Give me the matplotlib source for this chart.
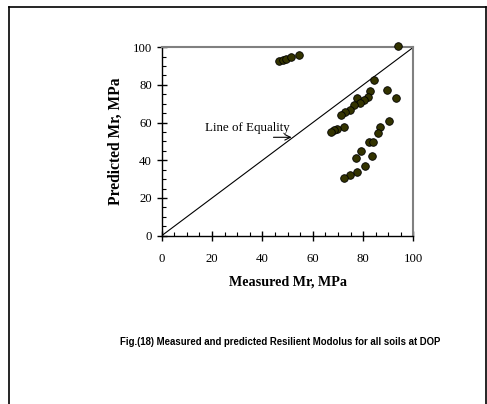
import matplotlib
import matplotlib.pyplot as plt
from matplotlib.lines import Line2D

matplotlib.use("Agg")

# measured vs predicted resilient modulus (MPa)
measured = [
    46.4, 48.1, 49.4, 51.4, 54.6,
    93.8,
    84.4, 89.3, 93.0, 82.8, 81.9, 77.7, 80.4, 78.9, 76.2, 74.8, 72.7, 71.4,
    72.3, 69.8, 68.6, 67.2,
    86.8, 90.1, 86.0, 82.5, 84.1, 79.1, 77.2, 83.6, 80.9, 77.4, 74.8, 72.6,
]
predicted = [
    92.7, 93.1, 93.5, 94.7, 95.9,
    100.6,
    82.5, 77.3, 73.1, 76.6, 73.8, 72.9, 72.0, 70.3, 69.2, 66.7, 65.5, 64.2,
    57.9, 56.6, 55.9, 55.2,
    57.9, 60.7, 54.3, 49.6, 49.6, 44.8, 41.2, 42.5, 37.0, 33.8, 32.2, 30.6,
]
equality = [0, 100]
ticks = [0, 20, 40, 60, 80, 100]

serif = ["Liberation Serif", "DejaVu Serif"]

fig = plt.figure(figsize=(4.87, 4.04), dpi=100)
ax = fig.add_axes([0.332, 0.4166, 0.517, 0.4666])

ax.plot(equality, equality, color="black", lw=0.8)
ax.scatter(measured, predicted, s=30, color="#333300", edgecolors="black",
           linewidths=0.6, zorder=3, clip_on=False)

ax.set_xlim(0, 100)
ax.set_ylim(0, 100)
ax.set_xticks(ticks)
ax.set_yticks(ticks)
ax.set_xticks(range(0, 101, 5), minor=True)
ax.set_yticks(range(0, 101, 5), minor=True)
ax.tick_params(which="major", direction="inout", length=7, width=1, labelsize=9.2)
ax.tick_params(axis="x", which="major", pad=9)
ax.tick_params(axis="y", which="major", pad=3.5)
ax.tick_params(which="minor", direction="in", length=3, width=0.8)
ax.tick_params(top=False, right=False, which="both")
for lab in ax.get_xticklabels() + ax.get_yticklabels():
    lab.set_fontfamily(serif)

for side in ("left", "bottom"):
    ax.spines[side].set_color("black")
    ax.spines[side].set_linewidth(1)
for side in ("top", "right"):
    ax.spines[side].set_color("#808080")
    ax.spines[side].set_linewidth(1.5)

ax.set_xlabel("Measured Mr, MPa", family=serif, fontweight="bold", fontsize=10.2)
ax.set_ylabel("Predicted Mr, MPa", family=serif, fontweight="bold", fontsize=11.2)
ax.xaxis.set_label_coords(0.5, -0.244)
ax.yaxis.set_label_coords(-0.183, 0.5)
ax.xaxis.label.set_va("center")
ax.yaxis.label.set_va("center")

ax.text(17.2, 57.2, "Line of Equality", family=serif, fontsize=9.4, va="center", ha="left")
ax.annotate("", xy=(51.6, 52.2), xytext=(44.4, 52.2),
            arrowprops=dict(arrowstyle="->", color="black", lw=0.8, shrinkA=0, shrinkB=0))

fig.text(0.576, 0.154, "Fig.(18) Measured and predicted Resilient Modolus for all soils at DOP",
         family=["Liberation Sans", "DejaVu Sans"], fontweight="bold", fontsize=6.9,
         ha="center", va="center")

# page frame
frame_kw = dict(color="black", lw=1.2, transform=fig.transFigure)
fig.add_artist(Line2D([9 / 487, 9 / 487], [0, 1 - 7 / 404], **frame_kw))
fig.add_artist(Line2D([9 / 487, 486 / 487], [1 - 7 / 404, 1 - 7 / 404], **frame_kw))
fig.add_artist(Line2D([486 / 487, 486 / 487], [0, 1 - 7 / 404], **frame_kw))

fig.savefig("out.png", dpi=100)
